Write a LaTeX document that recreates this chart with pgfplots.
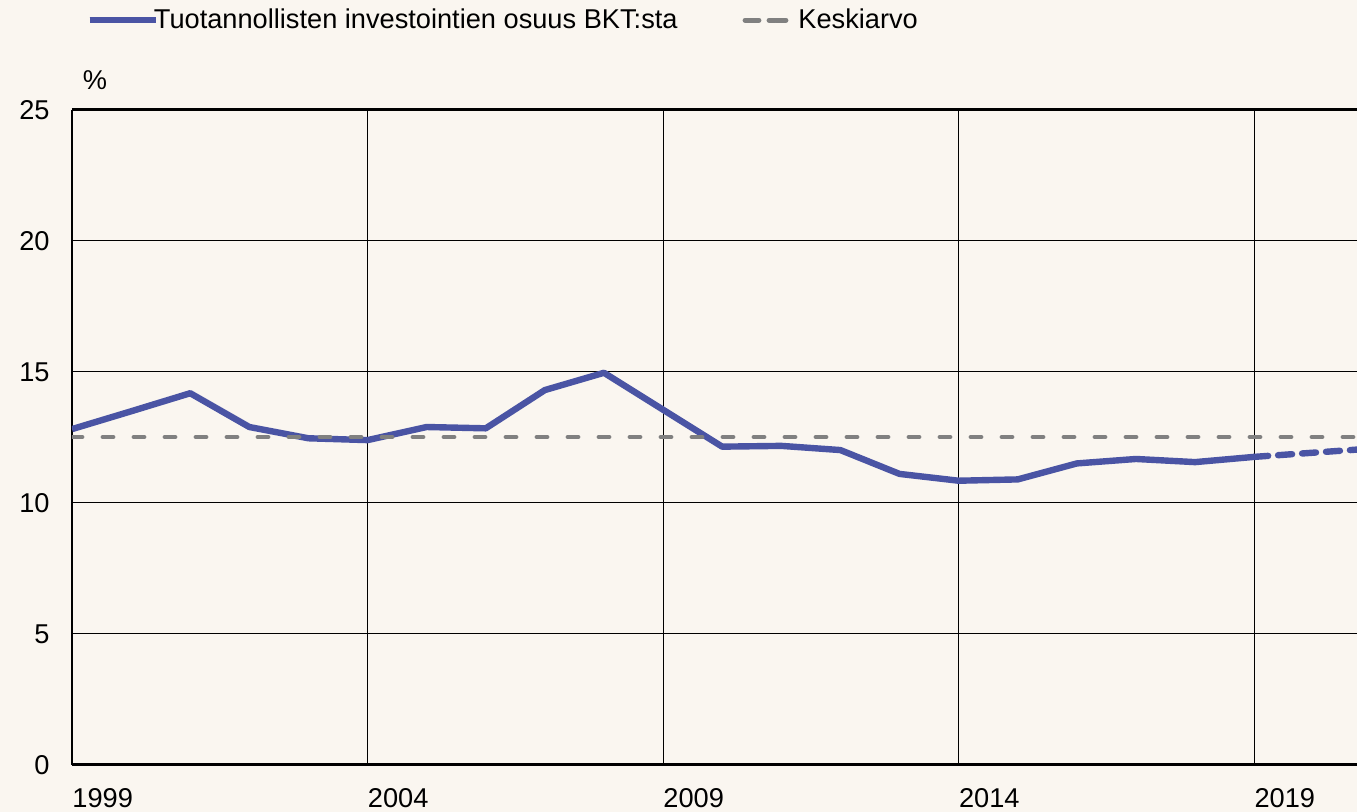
\documentclass[border=0pt]{standalone}
\usepackage{fontspec}
\setmainfont{Liberation Sans}
\usepackage{pgfplots}
\pgfplotsset{compat=1.18}
\usetikzlibrary{backgrounds}

\definecolor{bgc}{RGB}{250,246,240}
\definecolor{lineblue}{RGB}{74,84,164}
\definecolor{meangray}{RGB}{128,128,128}

\newcommand{\chartfont}{\fontsize{13.6}{16}\selectfont}

\pgfplotsset{
  longleg/.style={legend image code/.code={%
    \draw[##1, overlay] (0pt,0pt) -- (33pt,0pt);
    \path (0pt,0pt) -- (28.5pt,0pt);}},
  shortleg/.style={legend image code/.code={%
    \draw[##1, overlay, dash pattern=on 6pt off 5pt] (1pt,0pt) -- (15pt,0pt);
    \path (0pt,0pt) -- (23.5pt,0pt);}},
}

\begin{document}
\begin{tikzpicture}
\begin{axis}[
  width=642.5pt, height=327.5pt,
  scale only axis,
  xmin=1999, xmax=2020.74,
  ymin=0, ymax=25,
  xtick={1999,2004,2009,2014,2019},
  ytick={0,5,10,15,20,25},
  xticklabel style={anchor=north west, inner xsep=0pt, inner ysep=0pt, xshift=0pt, yshift=-11.5pt},
  yticklabel style={anchor=east, inner xsep=0pt, xshift=-11pt},
  x tick label style={/pgf/number format/1000 sep={}},
  /pgf/number format/assume math mode=true,
  tick label style={font=\chartfont},
  major tick length=0pt,
  grid=major,
  grid style={black, line width=0.5pt},
  axis x line*=box,
  axis y line*=left,
  x axis line style={line width=1.5pt},
  y axis line style={line width=1pt},
  clip=true,
  legend columns=2,
  legend cell align=left,
  legend style={draw=none, fill=none, inner sep=0pt,
    at={(0.011,1.137)}, anchor=west,
    font=\chartfont,
    /tikz/every even column/.append style={column sep=30.5pt}},
]
\coordinate (bl) at (rel axis cs:0,0);
\coordinate (tr) at (rel axis cs:1,1);
\coordinate (tl) at (rel axis cs:0,1);

\addplot[lineblue, line width=3.2pt, line join=round, longleg]
  coordinates {
  (1999,12.82) (2000,13.50) (2001,14.19) (2002,12.90) (2003,12.47)
  (2004,12.40) (2005,12.90) (2006,12.85) (2007,14.31) (2008,14.97)
  (2009,13.56) (2010,12.15) (2011,12.18) (2012,12.02) (2013,11.11)
  (2014,10.85) (2015,10.90) (2016,11.51) (2017,11.68) (2018,11.56)
  (2019,11.76)
};
\addlegendentry{Tuotannollisten investointien osuus BKT:sta}

\addplot[meangray, line width=2.4pt, line cap=round, dash pattern=on 5pt off 10.5pt, shortleg]
  coordinates {(1999,12.52) (2021,12.52)};
\addlegendentry{Keskiarvo}

\addplot[lineblue, line width=3.2pt, line cap=round, dash pattern=on 7pt off 5pt, forget plot]
  coordinates {(2019,11.76) (2020,11.92) (2021,12.08)};
\end{axis}

\node[font=\chartfont] at ([xshift=11.5pt,yshift=15pt]tl) {\%};

\pgfresetboundingbox
\path[use as bounding box] ([xshift=-36pt,yshift=-23.5pt]bl) rectangle ([yshift=55pt]tr);
\begin{scope}[on background layer]
\fill[bgc] ([xshift=-36pt,yshift=-23.5pt]bl) rectangle ([yshift=55pt]tr);
\end{scope}
\end{tikzpicture}
\end{document}
